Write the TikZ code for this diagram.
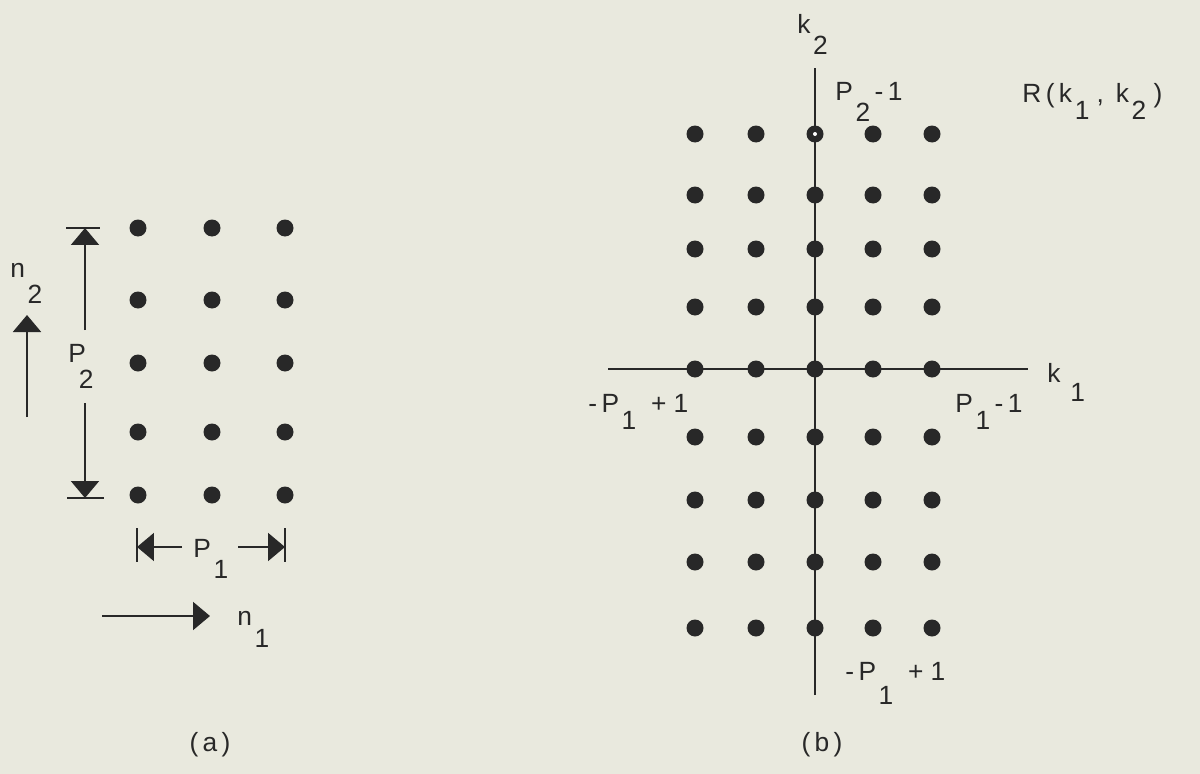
\documentclass[tikz,border=0pt]{standalone}
\usepackage{fontspec}
\setmainfont{Liberation Sans}
\usetikzlibrary{arrows.meta}
\definecolor{paper}{RGB}{233,233,222}
\definecolor{ink}{RGB}{40,40,40}
\newcommand{\dn}[2][11pt]{\kern1.5pt\raisebox{-#1}{#2}}
\tikzset{
  dot/.style={circle, fill=ink, inner sep=0pt, minimum size=0.34cm},
  axis/.style={draw=ink, line width=1.6pt},
  bar/.style={draw=ink, line width=1.4pt},
  dimarr/.style={draw=ink, line width=1.2pt, -{Triangle[width=0.56cm,length=0.34cm]}},
  lbl/.style={text=ink, inner sep=0pt, anchor=base west, font=\fontsize{15}{17}\selectfont}
}

\begin{document}
\begin{tikzpicture}[x=0.02cm, y=-0.02cm]
  \fill[paper] (0,0) rectangle (1200,774);
  \useasboundingbox (0,0) rectangle (1200,774);

  % (a) sample grid
  \foreach \i/\x in {1/138,2/212,3/285}
    \foreach \j/\y in {1/228,2/300,3/363,4/432,5/495}
      \node[dot] (a-\i-\j) at (\x,\y) {};

  % P2 dimension
  \coordinate (p2tl) at (66,228);
  \coordinate (p2tr) at (100,228);
  \coordinate (p2bl) at (67,498);
  \coordinate (p2br) at (104,498);
  \coordinate (p2top) at (85,228);
  \coordinate (p2bot) at (85,498);
  \coordinate (p2up) at (85,330);
  \coordinate (p2dn) at (85,403);
  \draw[bar] (p2tl) -- (p2tr);
  \draw[bar] (p2bl) -- (p2br);
  \draw[dimarr] (p2up) -- (p2top);
  \draw[dimarr] (p2dn) -- (p2bot);
  \node[lbl] (p2lbl) at (68,362) {P\kern-4pt\raisebox{-15pt}{2}};

  % P1 dimension
  \coordinate (p1lt) at (137,528);
  \coordinate (p1lb) at (137,562);
  \coordinate (p1rt) at (285,528);
  \coordinate (p1rb) at (285,562);
  \coordinate (p1l) at (137,547);
  \coordinate (p1r) at (285,547);
  \coordinate (p1a) at (182,547);
  \coordinate (p1b) at (238,547);
  \draw[bar] (p1lt) -- (p1lb);
  \draw[bar] (p1rt) -- (p1rb);
  \draw[dimarr] (p1a) -- (p1l);
  \draw[dimarr] (p1b) -- (p1r);
  \node[lbl] (p1lbl) at (193,557) {P\dn[12pt]{1}};

  % index axes of (a)
  \coordinate (n2s) at (27,417);
  \coordinate (n2e) at (27,315);
  \draw[dimarr] (n2s) -- (n2e);
  \node[lbl] (n2lbl) at (10,277) {n\dn[15pt]{2}};
  \coordinate (n1s) at (102,616);
  \coordinate (n1e) at (210,616);
  \draw[dimarr] (n1s) -- (n1e);
  \node[lbl] (n1lbl) at (237,625) {n\dn[13pt]{1}};

  \node[lbl, anchor=center] (capa) at (210,745) {(\,a\,)};

  % (b) correlation plane
  \coordinate (k2top) at (815,68);
  \coordinate (k2bot) at (815,695);
  \coordinate (k1left) at (608,369);
  \coordinate (k1right) at (1028,369);
  \draw[axis] (k2bot) -- (k2top);
  \draw[axis] (k1left) -- (k1right);

  \foreach \i/\x in {1/695,2/756,3/815,4/873,5/932}
    \foreach \j/\y in {1/134,2/195,3/249,4/307,5/369,6/437,7/500,8/562,9/628}
      \node[dot] (b-\i-\j) at (\x,\y) {};
  \node[circle, fill=white, inner sep=0pt, minimum size=0.08cm] (hole) at (b-3-1) {};

  \node[lbl] (k2lbl) at (797,33) {k\dn[12pt]{2}};
  \node[lbl] (k1lbl) at (1047,382) {k\ \dn[11pt]{1}};
  \node[lbl] (p2m) at (835,100) {P\dn[12pt]{2}\,-\,1};
  \node[lbl] (rlbl) at (1022,102) {R\,(\,k\dn[10pt]{1}\ ,\ \,k\dn[10pt]{2}\ )};
  \node[lbl] (p1neg) at (588,412) {-\,P\dn[10pt]{1}\ \ +\ 1};
  \node[lbl] (p1pos) at (955,412) {P\dn[10pt]{1}\,-\,1};
  \node[lbl] (p1negb) at (845,680) {-\,P\dn[14pt]{1}\ \ +\ 1};

  \node[lbl, anchor=center] (capb) at (822,745) {(\,b\,)};
\end{tikzpicture}
\end{document}
